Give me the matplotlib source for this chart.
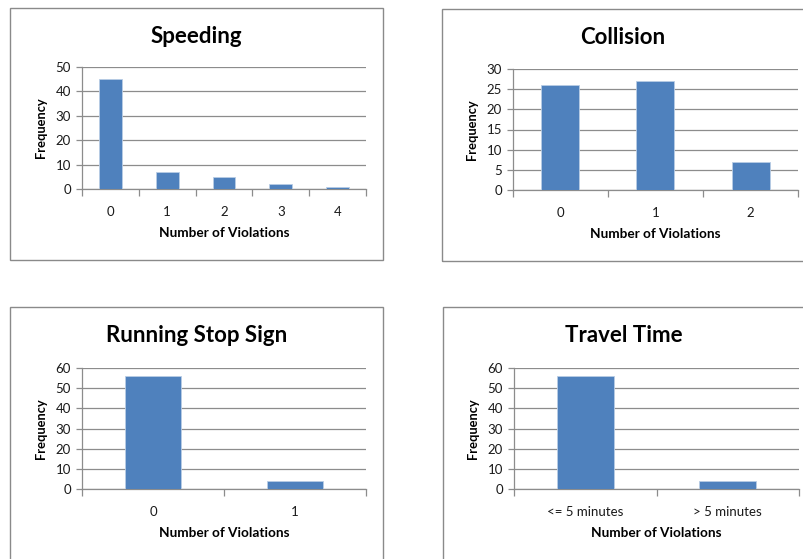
import matplotlib
matplotlib.use("Agg")
import matplotlib.pyplot as plt
from matplotlib.patches import Rectangle

plt.rcParams['font.family'] = ['Lato', 'DejaVu Sans']

speeding_cats = ["0", "1", "2", "3", "4"]
speeding_vals = [45, 7, 5, 2, 1]
collision_cats = ["0", "1", "2"]
collision_vals = [26, 27, 7]
stop_cats = ["0", "1"]
stop_vals = [56, 4]
travel_cats = ["<= 5 minutes", "> 5 minutes"]
travel_vals = [56, 4]

W, H = 804, 559
fig = plt.figure(figsize=(W / 100, H / 100), dpi=100)

BAR = "#4F81BD"
GRID = "#8C8C8C"


def px_axes(l, t, r, b):
    return fig.add_axes([l / W, 1 - b / H, (r - l) / W, (b - t) / H])


def border(l, t, r, b):
    fig.patches.append(Rectangle((l / W, 1 - b / H), (r - l) / W, (b - t) / H,
                                 transform=fig.transFigure, fill=False,
                                 edgecolor="#8A8A8A", linewidth=1.0))


def panel(box, plot, title, cats, vals, ymax, step):
    border(*box)
    ax = px_axes(*plot)
    n = len(cats)
    x = list(range(n))
    ax.bar(x, vals, width=0.4, color=BAR, edgecolor="#B9CDE5", linewidth=0.6, zorder=3)
    ax.set_xlim(-0.5, n - 0.5)
    ax.set_ylim(0, ymax)
    ax.set_yticks(range(0, ymax + 1, step))
    ax.set_xticks(x)
    ax.set_xticklabels(cats)
    ax.set_xticks([i - 0.5 for i in range(n + 1)], minor=True)
    ax.grid(axis="y", color=GRID, linewidth=0.9, zorder=0)
    for s in ["top", "right"]:
        ax.spines[s].set_visible(False)
    for s in ["left", "bottom"]:
        ax.spines[s].set_color(GRID)
        ax.spines[s].set_linewidth(0.9)
    ax.tick_params(axis="x", which="major", length=0, pad=12, labelsize=9.5, colors="#1a1a1a")
    ax.tick_params(axis="x", which="minor", length=5, color=GRID, width=0.9)
    ax.tick_params(axis="y", length=4, color=GRID, width=0.9, labelsize=9.5, pad=4, labelcolor="#1a1a1a")
    ax.set_xlabel("Number of Violations", fontsize=9.8, fontweight="bold", labelpad=7)
    ax.set_ylabel("Frequency", fontsize=9.3, fontweight="bold", labelpad=6)
    l, t, r, b = box
    cx = (l + min(r, W)) / 2
    fig.text(cx / W, 1 - (t + 28.5) / H, title, ha="center", va="center",
             fontsize=16, fontweight="bold")
    return ax


panel((10, 8, 383, 260), (82, 67, 366, 189), "Speeding", speeding_cats, speeding_vals, 50, 10)
panel((442, 9, 806, 261), (513, 69, 798, 190), "Collision", collision_cats, collision_vals, 30, 5)
panel((10, 307, 383, 562), (82, 368, 366, 489), "Running Stop Sign", stop_cats, stop_vals, 60, 10)
panel((443, 307, 806, 562), (514, 368, 799, 489), "Travel Time", travel_cats, travel_vals, 60, 10)

fig.savefig("out.png", dpi=100, facecolor="white")
